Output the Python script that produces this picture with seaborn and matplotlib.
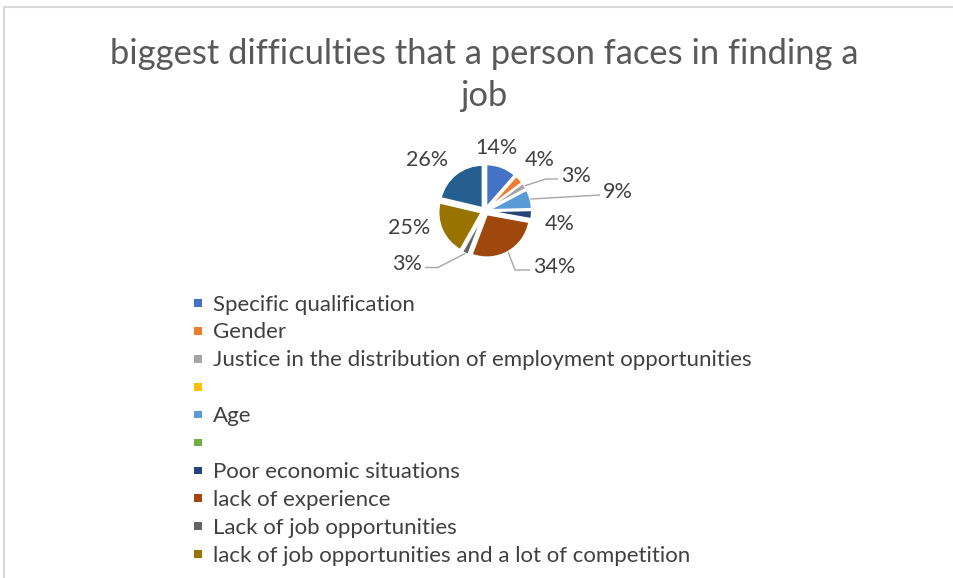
import matplotlib
matplotlib.use("Agg")
import matplotlib.pyplot as plt
import seaborn as sns
import numpy as np
from matplotlib.patches import Rectangle
from matplotlib.lines import Line2D

# ---------------- data ----------------
categories = [
    "Specific qualification",
    "Gender",
    "Justice in the distribution of employment opportunities",
    "",
    "Age",
    "",
    "Poor economic situations",
    "lack of experience",
    "Lack of job opportunities",
    "lack of job opportunities and a lot of competition",
    "",
]
values = [14, 4, 3, 0, 9, 0, 4, 34, 3, 25, 26]
colors = ["#4472C4", "#ED7D31", "#A5A5A5", "#FFC000", "#5B9BD5", "#70AD47",
          "#264478", "#9E480E", "#636363", "#997300", "#255E91"]
legend_shown = 10
title_lines = ["biggest difficulties that a person faces in finding a", "job"]

# ---------------- style ----------------
sns.set_theme(style="white")
FONT = ["Lato", "DejaVu Sans"]
plt.rcParams["font.family"] = FONT
palette = sns.color_palette(colors)

W, H = 954, 578
fig = plt.figure(figsize=(W / 100, H / 100), dpi=100)
fig.patch.set_facecolor("white")

def fx(px):
    return px / W

def fy(py):
    return 1 - py / H

# chart border (top and left visible)
fig.add_artist(Line2D([fx(4), fx(954)], [fy(7), fy(7)], color="#D9D9D9", lw=1.5))
fig.add_artist(Line2D([fx(4), fx(4)], [fy(7), fy(578)], color="#D9D9D9", lw=1.5))

# title
TITLE_COLOR = "#595959"
for line, base in zip(title_lines, [63.5, 106.5]):
    fig.text(fx(484), fy(base), line, ha="center", va="baseline",
             fontsize=24.8, color=TITLE_COLOR)

# pie
CX, CY, R = 485, 211, 43      # centre (px) and radius (px)
BW, BH = 420, 240
ax = fig.add_axes([fx(CX - BW / 2), (H - CY - BH / 2) / H, BW / W, BH / H])
EXPLODE = 0.09
wedges, _ = ax.pie(values, colors=palette, startangle=90, counterclock=False,
                   explode=[EXPLODE] * len(values),
                   wedgeprops=dict(edgecolor="white", linewidth=1.4))
ax.set_xlim(-BW / 2 / R, BW / 2 / R)
ax.set_ylim(-BH / 2 / R, BH / 2 / R)
ax.set_aspect("auto")
ax.axis("off")

LABEL_COLOR = "#404040"
LEADER_COLOR = "#A6A6A6"
LFS = 15.5
# label layout: (dx, dy) pixel offset of label from pie centre, alignment, leader elbow length
layout = {
    0: ((11, 63.5), "center", None),
    1: ((54.5, 50.5), "center", None),
    2: ((76, 35), "left", 12),
    4: ((118, 19), "left", 0),
    6: ((75, -12.5), "center", None),
    7: ((48, -56), "left", 15),
    8: ((-63, -53.5), "right", 13),
    9: ((-76, -16.5), "center", None),
    10: ((-57.5, 51.5), "center", None),
}
for i, (w, v) in enumerate(zip(wedges, values)):
    if v == 0 or i not in layout:
        continue
    (dx, dy), ha, elbow = layout[i]
    tx, ty = dx / R, dy / R
    ax.text(tx, ty, f"{v}%", ha=ha, va="center", fontsize=LFS, color=LABEL_COLOR)
    if elbow is not None:
        mid = np.deg2rad((w.theta1 + w.theta2) / 2)
        r0 = 1 + EXPLODE
        sx, sy = r0 * np.cos(mid), r0 * np.sin(mid)
        gap = 3 / R
        ly = ty - 3 / R
        if ha == "left":
            ex = tx - gap
            bx = ex - elbow / R
        else:
            ex = tx + gap
            bx = ex + elbow / R
        ax.plot([sx, bx, ex], [sy, ly, ly], color=LEADER_COLOR, lw=1.0,
                solid_capstyle="butt")

# legend (manual, Excel style)
for i in range(legend_shown):
    yc = 303.0 + 27.9 * i
    fig.add_artist(Rectangle((fx(194), fy(yc + 3.8)), 8 / W, 7.6 / H,
                             transform=fig.transFigure, facecolor=palette[i],
                             edgecolor="none"))
    fig.text(fx(213), fy(yc + 7.6), categories[i], ha="left", va="baseline",
             fontsize=16, color=LABEL_COLOR)

fig.savefig("out.png", dpi=100, facecolor="white")
